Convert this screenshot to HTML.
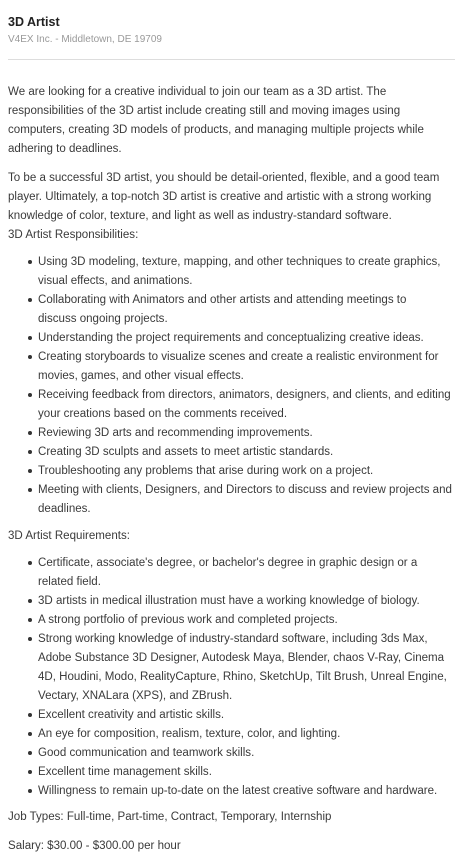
<!DOCTYPE html>
<html><head><meta charset="utf-8">
<style>
html,body{margin:0;padding:0;background:#fff;width:455px;height:862px;overflow:hidden}
body{font-family:"Liberation Sans",sans-serif;color:#3a3a3a;position:relative}
.b{position:absolute;left:8px;font-size:11.55px;line-height:19px;white-space:nowrap}
.b div{height:19px}
ul{margin:0;padding:0;list-style:none}
li{position:relative;padding-left:30px}
li.s::before{content:"";position:absolute;left:20px;top:7px;width:4px;height:4px;border-radius:50%;background:#333}
</style></head><body>
<div class="b" style="top:13px;font-weight:bold;color:#222;font-size:12.5px">3D Artist</div>
<div class="b" style="top:31px;font-size:10px;color:#999;line-height:18px">V4EX Inc. - Middletown, DE 19709</div>
<div style="position:absolute;left:8px;width:447px;top:59px;height:1px;background:#ddd"></div>
<div class="b" style="top:83px">
<div>We are looking for a creative individual to join our team as a 3D artist. The</div>
<div>responsibilities of the 3D artist include creating still and moving images using</div>
<div>computers, creating 3D models of products, and managing multiple projects while</div>
<div>adhering to deadlines.</div>
</div>
<div class="b" style="top:169px">
<div>To be a successful 3D artist, you should be detail-oriented, flexible, and a good team</div>
<div>player. Ultimately, a top-notch 3D artist is creative and artistic with a strong working</div>
<div>knowledge of color, texture, and light as well as industry-standard software.</div>
<div>3D Artist Responsibilities:</div>
</div>
<ul class="b" style="top:253px;left:8px">
<li class="s">Using 3D modeling, texture, mapping, and other techniques to create graphics,</li>
<li>visual effects, and animations.</li>
<li class="s">Collaborating with Animators and other artists and attending meetings to</li>
<li>discuss ongoing projects.</li>
<li class="s">Understanding the project requirements and conceptualizing creative ideas.</li>
<li class="s">Creating storyboards to visualize scenes and create a realistic environment for</li>
<li>movies, games, and other visual effects.</li>
<li class="s">Receiving feedback from directors, animators, designers, and clients, and editing</li>
<li>your creations based on the comments received.</li>
<li class="s">Reviewing 3D arts and recommending improvements.</li>
<li class="s">Creating 3D sculpts and assets to meet artistic standards.</li>
<li class="s">Troubleshooting any problems that arise during work on a project.</li>
<li class="s">Meeting with clients, Designers, and Directors to discuss and review projects and</li>
<li>deadlines.</li>
</ul>
<div class="b" style="top:527px">3D Artist Requirements:</div>
<ul class="b" style="top:554px;left:8px">
<li class="s">Certificate, associate's degree, or bachelor's degree in graphic design or a</li>
<li>related field.</li>
<li class="s">3D artists in medical illustration must have a working knowledge of biology.</li>
<li class="s">A strong portfolio of previous work and completed projects.</li>
<li class="s">Strong working knowledge of industry-standard software, including 3ds Max,</li>
<li>Adobe Substance 3D Designer, Autodesk Maya, Blender, chaos V-Ray, Cinema</li>
<li>4D, Houdini, Modo, RealityCapture, Rhino, SketchUp, Tilt Brush, Unreal Engine,</li>
<li>Vectary, XNALara (XPS), and ZBrush.</li>
<li class="s">Excellent creativity and artistic skills.</li>
<li class="s">An eye for composition, realism, texture, color, and lighting.</li>
<li class="s">Good communication and teamwork skills.</li>
<li class="s">Excellent time management skills.</li>
<li class="s">Willingness to remain up-to-date on the latest creative software and hardware.</li>
</ul>
<div class="b" style="top:808px">Job Types: Full-time, Part-time, Contract, Temporary, Internship</div>
<div class="b" style="top:837px">Salary: $30.00 - $300.00 per hour</div>
</body></html>
